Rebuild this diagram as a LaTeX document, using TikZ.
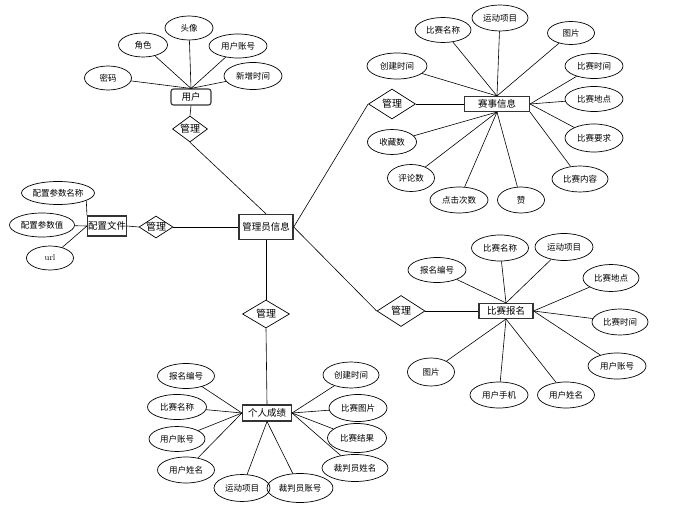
\documentclass[tikz,border=0pt]{standalone}
\usepackage{fontspec}
\newfontfamily\cjk{Noto Sans CJK SC}
\usetikzlibrary{shapes.geometric}
\tikzset{
  attr/.style={ellipse, draw=black, line width=0.7pt, inner sep=0pt, font=\cjk\fontsize{8.5}{10}\selectfont},
  ent/.style={rectangle, draw=black!80, line width=1.1pt, inner sep=0pt, font=\cjk\fontsize{9.5}{11}\selectfont},
  rel/.style={diamond, draw=black, line width=0.7pt, inner sep=0pt},
  rtext/.style={font=\cjk\fontsize{10}{12}\selectfont},
  link/.style={draw=black, line width=0.6pt}
}
\newcommand{\attrnode}[5]{\node[attr, minimum width=#3pt, minimum height=#4pt] (#1) at #2 {#5};}
\newcommand{\relnode}[4]{\node[rel, minimum width=#3pt, minimum height=#4pt] (#1) at #2 {}; \node[rtext] at (#1) {管理};}
\begin{document}
\begin{tikzpicture}[x=1pt,y=-1pt]
\useasboundingbox (0,0) rectangle (694,511);
\fill[white] (0,0) rectangle (694,511);

% entities
\node[ent, rounded corners=2.5pt, minimum width=40pt, minimum height=16pt] (user) at (191,97) {用户};
\node[ent, minimum width=65pt, minimum height=15pt] (match) at (497,104) {赛事信息};
\node[ent, minimum width=39pt, minimum height=20pt] (conf) at (107,226) {配置文件};
\node[ent, line width=1.4pt, minimum width=54pt, minimum height=25pt] (admin) at (266,227) {管理员信息};
\node[ent, minimum width=54pt, minimum height=15pt] (reg) at (506,311) {比赛报名};
\node[ent, minimum width=49pt, minimum height=16pt] (score) at (267,413) {个人成绩};

% relationships
\relnode{r1}{(190,129)}{35}{26}
\relnode{r2}{(392,104)}{47}{30}
\relnode{r5}{(156,227)}{34}{22}
\relnode{r3}{(401,311)}{48}{31}
\relnode{r4}{(266,314)}{47}{28}

% user attributes
\attrnode{u1}{(108,78)}{47}{24}{密码}
\attrnode{u2}{(143,45)}{49}{24}{角色}
\attrnode{u3}{(189,28)}{48}{24}{头像}
\attrnode{u4}{(238,46)}{58}{24}{用户账号}
\attrnode{u5}{(253,76)}{58}{27}{新增时间}

% match attributes
\attrnode{m1}{(443,30)}{56}{25}{比赛名称}
\attrnode{m2}{(500,18)}{56}{26}{运动项目}
\attrnode{m3}{(571,33)}{47}{23}{图片}
\attrnode{m4}{(397,66)}{60}{26}{创建时间}
\attrnode{m5}{(594,66)}{58}{25}{比赛时间}
\attrnode{m6}{(594,99)}{58}{25}{比赛地点}
\attrnode{m7}{(594,138)}{58}{28}{比赛要求}
\attrnode{m8}{(580,179)}{56}{26}{比赛内容}
\attrnode{m9}{(521,200)}{47}{26}{赞}
\attrnode{m10}{(459,200)}{58}{26}{点击次数}
\attrnode{m11}{(411,178)}{47}{27}{评论数}
\attrnode{m12}{(392,142)}{49}{25}{收藏数}

% config attributes
\attrnode{c1}{(58,193)}{73}{23}{配置参数名称}
\attrnode{c2}{(42,225)}{65}{24}{配置参数值}
\attrnode{c3}{(50,258)}{47}{24}{\rmfamily url}

% registration attributes
\attrnode{s1}{(437,270)}{58}{25}{报名编号}
\attrnode{s2}{(500,248)}{57}{26}{比赛名称}
\attrnode{s3}{(564,247)}{58}{27}{运动项目}
\attrnode{s4}{(611,278)}{56}{27}{比赛地点}
\attrnode{s5}{(620,322)}{56}{26}{比赛时间}
\attrnode{s6}{(617,366)}{58}{26}{用户账号}
\attrnode{s7}{(566,395)}{57}{26}{用户姓名}
\attrnode{s8}{(499,395)}{58}{26}{用户手机}
\attrnode{s9}{(431,372)}{47}{28}{图片}

% score attributes
\attrnode{p1}{(186,376)}{57}{25}{报名编号}
\attrnode{p2}{(177,407)}{59}{25}{比赛名称}
\attrnode{p3}{(177,439)}{56}{25}{用户账号}
\attrnode{p4}{(186,470)}{57}{26}{用户姓名}
\attrnode{p5}{(242,488)}{56}{27}{运动项目}
\attrnode{p6}{(300,488)}{66}{29}{裁判员账号}
\attrnode{p7}{(355,468)}{66}{27}{裁判员姓名}
\attrnode{p8}{(357,438)}{59}{29}{比赛结果}
\attrnode{p9}{(358,408)}{58}{27}{比赛图片}
\attrnode{p10}{(351,375)}{56}{26}{创建时间}

% connectors: user
\foreach \a in {u1,u2,u3,u4,u5} \draw[link] (\a) -- (user.north);
\draw[link] (user.south) -- (r1.north);
\draw[link] (r1.south) -- (admin.north);

% match
\foreach \a in {m1,m2,m3,m4} \draw[link] (\a) -- (match.north);
\foreach \a in {m5,m6,m7} \draw[link] (\a) -- (match.east);
\draw[link] (m8) -- (match.south east);
\foreach \a in {m9,m10,m11,m12} \draw[link] (\a) -- (match.south);
\draw[link] (r2.east) -- (match.west);
\draw[link] (admin.east) -- (r2.west);

% config
\draw[link] (c1.-15) -- (conf.north west);
\draw[link] (c2) -- (conf.west);
\draw[link] (c3) -- (conf.west);
\draw[link] (conf.east) -- (r5.west);
\draw[link] (r5.east) -- (admin.west);

% registration
\foreach \a in {s1,s2,s3} \draw[link] (\a) -- (reg.north);
\foreach \a in {s4,s5,s6} \draw[link] (\a) -- (reg.east);
\foreach \a in {s7,s8,s9} \draw[link] (\a) -- (reg.south);
\draw[link] (r3.east) -- (reg.west);
\draw[link] (admin.east) -- (r3.west);

% score
\foreach \a in {p1,p2,p3,p4} \draw[link] (\a) -- (score.west);
\foreach \a in {p7,p8,p9,p10} \draw[link] (\a) -- (score.east);
\foreach \a in {p5,p6} \draw[link] (\a) -- (score.south);
\draw[link] (admin.south) -- (r4.north);
\draw[link] (r4.south) -- (score.north);
\end{tikzpicture}
\end{document}
